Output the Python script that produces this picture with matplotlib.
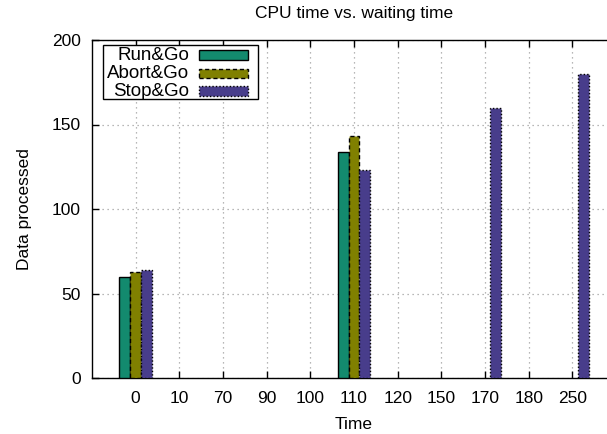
import numpy as np
import matplotlib
matplotlib.use("Agg")
import matplotlib.pyplot as plt
from matplotlib.patches import Rectangle

plt.rcParams['font.family'] = ['Liberation Sans', 'DejaVu Sans']

categories = ["0", "10", "70", "90", "100", "110", "120", "150", "170", "180", "250"]
nan = np.nan
run_go = [60, nan, nan, nan, nan, 134, nan, nan, nan, nan, nan]
abort_go = [63, nan, nan, nan, nan, 143, nan, nan, nan, nan, nan]
stop_go = [64, nan, nan, nan, nan, 123, nan, nan, 160, nan, 180]
series_names = ["Run&Go", "Abort&Go", "Stop&Go"]
colors = ["#138a6e", "#808000", "#483d8b"]
styles = ["solid", (0, (3, 2)), (0, (1, 1.5))]

FS = 12.5
W, H = 607, 434
fig = plt.figure(figsize=(W / 100, H / 100), dpi=100)
ax = fig.add_axes([92 / W, (H - 378) / H, 524 / W, 338 / H])

x = np.arange(len(categories))
bw = 0.25
data = [run_go, abort_go, stop_go]
for i, (vals, c, ls) in enumerate(zip(data, colors, styles)):
    ax.bar(x + (i - 1) * bw, vals, width=bw, color=c, edgecolor="black",
           linewidth=1.0, linestyle=ls, zorder=3)

ax.set_xlim(-1, 11)
ax.set_ylim(0, 200)
ax.set_xticks(x)
ax.set_xticklabels(categories)
ax.set_yticks([0, 50, 100, 150, 200])
ax.tick_params(axis="both", direction="in", length=5, labelsize=FS, width=1,
               top=True, right=False, colors="black")
ax.tick_params(axis="x", pad=9.5)
ax.tick_params(axis="y", pad=8)
ax.grid(True, color="#a0a0a0", linestyle=(0, (1, 3)), linewidth=0.9, zorder=0)
ax.set_axisbelow(True)
for s in ax.spines.values():
    s.set_linewidth(1.0)
ax.spines["right"].set_visible(False)

ax.set_title("CPU time vs. waiting time", fontsize=FS, pad=15.5)
ax.set_xlabel("Time", fontsize=FS, labelpad=8)
ax.set_ylabel("Data processed", fontsize=FS, labelpad=14)

# legend box (gnuplot style, text right-aligned before sample)
def px2ax(px, py):
    return ((px - 92) / 524, (378 - py) / 338)

x0, y0 = px2ax(103, 99)
x1, y1 = px2ax(258, 45)
ax.add_patch(Rectangle((x0, y0), x1 - x0, y1 - y0, transform=ax.transAxes,
                       facecolor="white", edgecolor="black", linewidth=1.0, zorder=5))
row_y = [55, 73, 91]
for name, c, ls, ry in zip(series_names, colors, styles, row_y):
    tx, ty = px2ax(189, ry)
    ax.text(tx, ty, name, transform=ax.transAxes, ha="right", va="center",
            fontsize=13.5, zorder=6)
    sx0, sy0 = px2ax(199, ry + 4.5)
    sx1, sy1 = px2ax(248, ry - 4.5)
    ax.add_patch(Rectangle((sx0, sy0), sx1 - sx0, sy1 - sy0, transform=ax.transAxes,
                           facecolor=c, edgecolor="black", linewidth=1.0,
                           linestyle=ls, zorder=6))

fig.savefig("out.png", dpi=100)
